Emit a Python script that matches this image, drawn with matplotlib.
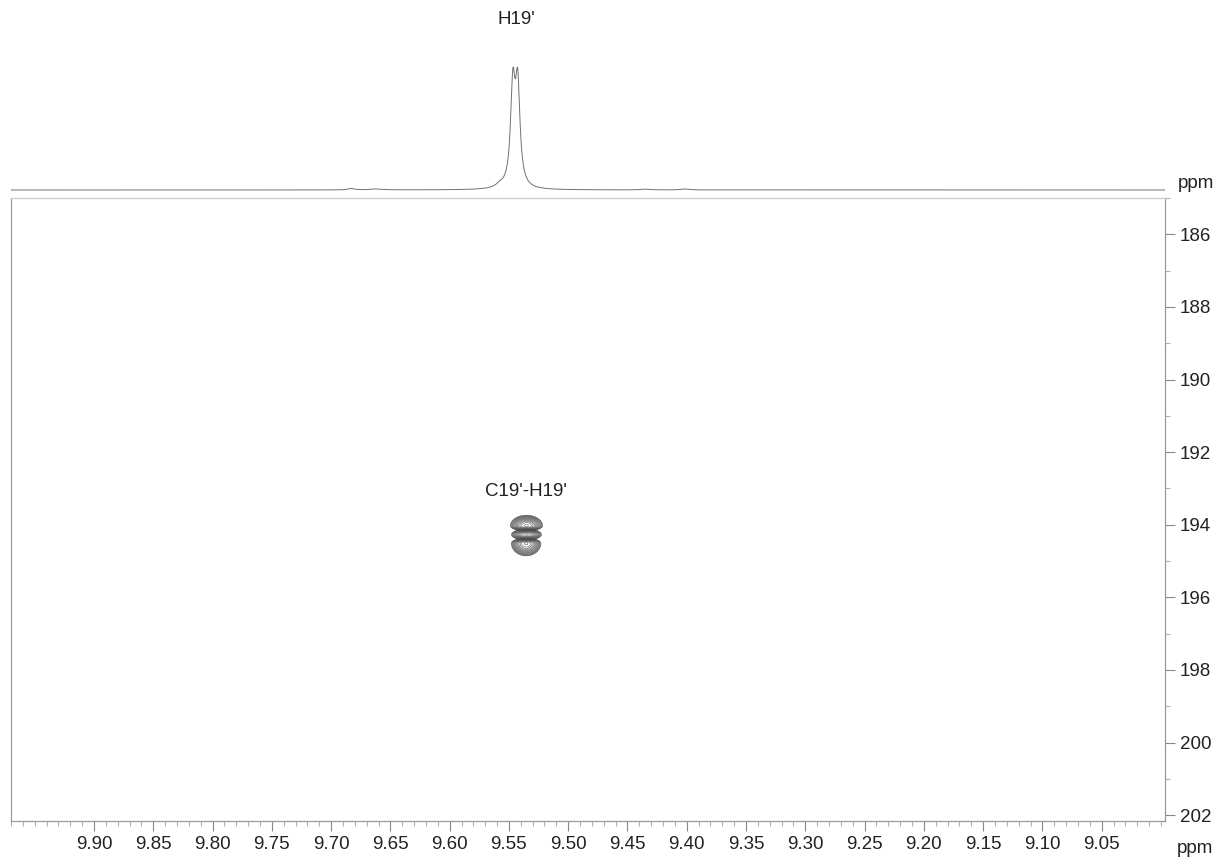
import numpy as np
import matplotlib.pyplot as plt

plt.rcParams['font.family'] = ['Liberation Sans', 'DejaVu Sans']

# axis ranges (ppm)
h_range = [9.960, 8.9966]
c_range = [202.16, 185.32]
x_ticks = [9.90, 9.85, 9.80, 9.75, 9.70, 9.65, 9.60, 9.55, 9.50, 9.45,
           9.40, 9.35, 9.30, 9.25, 9.20, 9.15, 9.10, 9.05]
y_ticks = [186, 188, 190, 192, 194, 196, 198, 200, 202]

# 1D proton trace: line positions, heights, half widths
h_peak_pos = [9.5410, 9.5370, 9.552, 9.676, 9.655, 9.430, 9.397]
h_peak_height = [1.0, 1.0, 0.03, 0.015, 0.01, 0.008, 0.01]
h_peak_width = [0.0023, 0.0023, 0.004, 0.003, 0.006, 0.004, 0.004]

# 2D cross peak lobes: H ppm, C ppm, H width, C width above / below
lobe_h = [9.5352, 9.5352, 9.5355]
lobe_c = [194.03, 194.27, 194.51]
lobe_sh = [0.0070, 0.0065, 0.0064]
lobe_sc_up = [0.150, 0.078, 0.072]
lobe_sc_down = [0.072, 0.078, 0.178]

fig = plt.figure(figsize=(12.21, 8.61), dpi=100)
W, H = 1221, 861
ax = fig.add_axes([11 / W, 1 - 821 / H, (1165 - 11) / W, (821 - 198) / H])
ax_top = fig.add_axes([11 / W, 1 - 196 / H, (1165 - 11) / W, (196 - 56) / H])

# top trace
x = np.linspace(h_range[1], h_range[0], 4000)
y = np.zeros_like(x)
for p, a, w in zip(h_peak_pos, h_peak_height, h_peak_width):
    y += a / (1 + ((x - p) / w) ** 2)
y /= y.max()
ax_top.plot(x, y, color='#707070', lw=0.7)
ax_top.set_xlim(h_range)
# baseline at y=190 px, top of peak at y=67 px
ax_top.set_ylim(-6 / 123, 134 / 123)
ax_top.axis('off')
fig.text(516 / W, 1 - 20 / H, "H19'", ha='center', va='center', fontsize=13.5, color='#222222')

# 2D contour
gx = np.linspace(9.49, 9.58, 300)
gy = np.linspace(193.4, 195.2, 500)
GX, GY = np.meshgrid(gx, gy)
levels = np.geomspace(0.15, 0.97, 14)
for h0, c0, sh, su, sd in zip(lobe_h, lobe_c, lobe_sh, lobe_sc_up, lobe_sc_down):
    sc = np.where(GY < c0, su, sd)
    Z = np.exp(-0.5 * ((GX - h0) / sh) ** 2 - 0.5 * ((GY - c0) / sc) ** 2)
    ax.contour(GX, GY, Z, levels=levels, colors='#4d4d4d', linewidths=0.4)
ax.text(9.5355, 193.08, "C19'-H19'", ha='center', va='center', fontsize=13.5, color='#222222')

ax.set_xlim(h_range)
ax.set_ylim(c_range)
ax.set_xticks(x_ticks)
ax.set_xticklabels([f'{t:.2f}' for t in x_ticks])
ax.set_xticks(np.arange(9.00, 9.97, 0.01), minor=True)
ax.set_yticks(y_ticks)
ax.set_yticks(np.arange(185, 203, 1), minor=True)
ax.yaxis.tick_right()
ax.tick_params(axis='both', which='major', labelsize=13.5, length=7.2, width=0.8,
               color='#888888', labelcolor='#222222', pad=3.5)
ax.tick_params(axis='both', which='minor', length=3.5, width=0.8, color='#b0b0b0')
for s in ax.spines.values():
    s.set_color('#999999')
    s.set_linewidth(0.9)
ax.spines['top'].set_color('#cccccc')

fig.text(1195 / W, 1 - 853 / H, 'ppm', ha='center', va='baseline', fontsize=13.5, color='#222222')
fig.text(1196 / W, 1 - 188 / H, 'ppm', ha='center', va='baseline', fontsize=13.5, color='#222222')

fig.savefig('out.png', dpi=100)
